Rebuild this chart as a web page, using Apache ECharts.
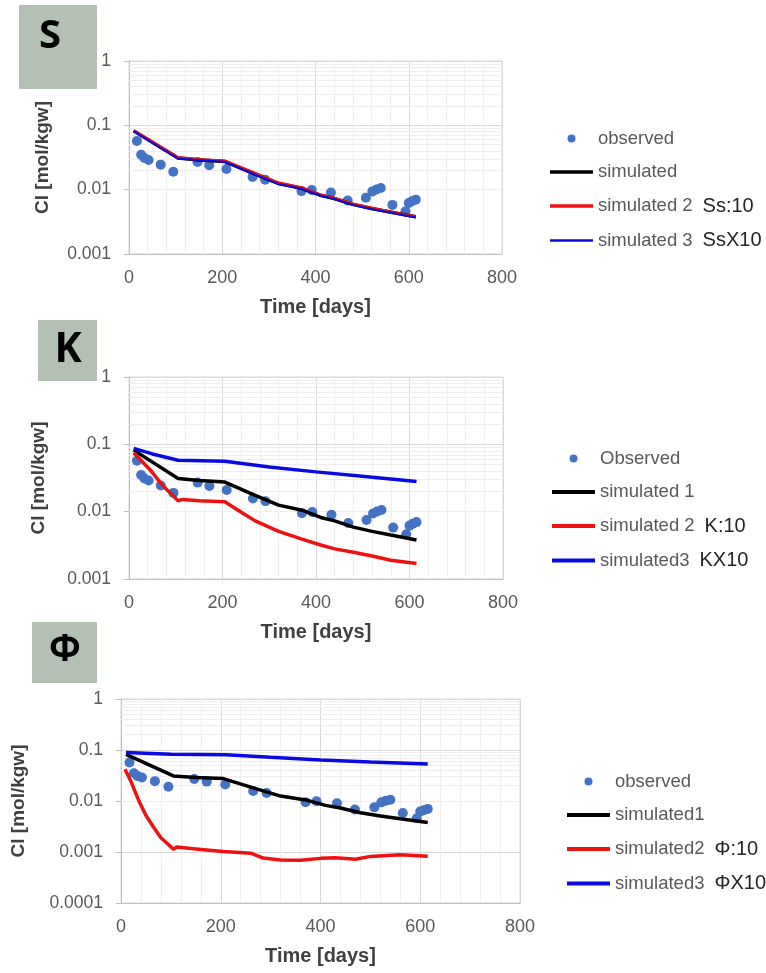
<!DOCTYPE html>
<html>
<head>
<meta charset="utf-8">
<title>Cl vs time</title>
<script src="https://cdn.jsdelivr.net/npm/echarts@6/dist/echarts.min.js"></script>
<style>
html, body { margin: 0; padding: 0; background: #fff; }
#main { width: 766px; height: 973px; }
</style>
</head>
<body>
<div id="main"></div>
<script>
// observed Cl (same measurements in all three panels)
var obsDays = [17, 26, 33, 42, 68, 95, 147, 172, 209, 265, 292, 370, 392, 433, 469, 508, 522, 531, 540, 565, 593, 600, 607, 615];
var obsCl = [0.057, 0.035, 0.031, 0.029, 0.0245, 0.019, 0.027, 0.024, 0.021, 0.0157, 0.0143, 0.0095, 0.0099, 0.009, 0.0068, 0.0075, 0.0094, 0.0101, 0.0106, 0.0058, 0.0046, 0.0062, 0.0066, 0.007];

// base simulation
var simDays = [10, 105, 150, 205, 270, 320, 370, 410, 440, 480, 520, 560, 615];
var simCl = [0.082, 0.031, 0.029, 0.0275, 0.0175, 0.0125, 0.0105, 0.0082, 0.0073, 0.0059, 0.0051, 0.0045, 0.0038];

// S panel
var ssLowCl = [0.083, 0.0315, 0.0295, 0.028, 0.018, 0.0128, 0.0107, 0.0083, 0.0074, 0.006, 0.0052, 0.0045, 0.0038];
var ssHighCl = [0.081, 0.0305, 0.0288, 0.0272, 0.0172, 0.0123, 0.0103, 0.0081, 0.0072, 0.0058, 0.005, 0.0044, 0.0037];

// K panel
var kLowDays = [10, 45, 73, 105, 115, 150, 205, 240, 270, 320, 370, 410, 440, 480, 520, 560, 615];
var kLowCl = [0.075, 0.042, 0.024, 0.0145, 0.0152, 0.0145, 0.014, 0.0098, 0.0073, 0.0051, 0.0039, 0.0032, 0.0028, 0.0025, 0.0022, 0.0019, 0.0017];
var kHighDays = [10, 50, 105, 205, 300, 400, 510, 615];
var kHighCl = [0.087, 0.072, 0.058, 0.056, 0.046, 0.039, 0.033, 0.028];

// Phi panel
var phiLowDays = [8, 20, 35, 50, 65, 80, 95, 105, 112, 150, 205, 260, 285, 320, 360, 400, 430, 470, 500, 560, 615];
var phiLowCl = [0.042, 0.024, 0.0105, 0.0052, 0.0031, 0.0019, 0.0014, 0.00113, 0.00125, 0.00115, 0.00102, 0.00095, 0.00076, 0.0007, 0.00069, 0.00075, 0.00077, 0.00072, 0.00082, 0.00088, 0.00083];
var phiHighDays = [10, 100, 210, 300, 400, 500, 615];
var phiHighCl = [0.089, 0.083, 0.081, 0.072, 0.064, 0.058, 0.053];

// legends
var legendS = ['observed', 'simulated', 'simulated 2', 'simulated 3'];
var notesS = ['', '', 'Ss:10', 'SsX10'];
var legendK = ['Observed', 'simulated 1', 'simulated 2', 'simulated3'];
var notesK = ['', '', 'K:10', 'KX10'];
var legendP = ['observed', 'simulated1', 'simulated2', 'simulated3'];
var notesP = ['', '', '\u03A6:10', '\u03A6X10'];
var panelLetters = ['S', 'K', '\u03A6'];

var xTicks = [0, 200, 400, 600, 800];

var FONT = '"Liberation Sans", Arial, sans-serif';
var BLUE_DOT = '#4472c4', RED = '#ee1111', BLUE = '#0a0ae0';

function zip(a, b) {
    return a.map(function (d, i) { return [d, b[i]]; });
}

// excel-like log minor grid lines (2..9 per decade)
function minorGrid(lo, hi) {
    var out = [];
    for (var e = lo; e < hi; e++) {
        for (var m = 2; m <= 9; m++) out.push({ yAxis: m * Math.pow(10, e) });
    }
    return out;
}

var myChart = echarts.init(document.getElementById('main'));

var grids = [
    { left: 129, top: 61, width: 373, height: 193 },
    { left: 129, top: 377, width: 374, height: 202 },
    { left: 121, top: 699, width: 399, height: 204 }
];
grids.forEach(function (g) {
    g.show = true;
    g.borderColor = '#d9d9d9';
    g.borderWidth = 1;
    g.backgroundColor = 'transparent';
});

var yMins = [0.001, 0.001, 0.0001];
var yNameGaps = [77, 81, 93];

var xAxes = grids.map(function (g, i) {
    return {
        gridIndex: i,
        type: 'value',
        min: xTicks[0],
        max: xTicks[xTicks.length - 1],
        interval: 200,
        name: 'Time [days]',
        nameLocation: 'middle',
        nameGap: 43,
        nameTextStyle: { fontFamily: FONT, fontWeight: 'bold', fontSize: 20, color: '#404040' },
        axisLine: { lineStyle: { color: '#bfbfbf' } },
        axisTick: { show: false },
        axisLabel: { margin: 15, fontFamily: FONT, fontSize: 18, color: '#595959' },
        splitLine: { show: true, lineStyle: { color: '#d9d9d9' } },
        minorTick: { show: false, splitNumber: 5 },
        minorSplitLine: { show: true, lineStyle: { color: '#efefef' } }
    };
});

var yAxes = grids.map(function (g, i) {
    return {
        gridIndex: i,
        type: 'log',
        logBase: 10,
        min: yMins[i],
        max: 1,
        name: 'Cl [mol/kgw]',
        nameLocation: 'middle',
        nameRotate: 90,
        nameGap: yNameGaps[i],
        nameTextStyle: { fontFamily: FONT, fontWeight: 'bold', fontSize: 19, color: '#404040' },
        axisLine: { show: true, lineStyle: { color: '#bfbfbf' } },
        axisTick: { show: true, length: 5, lineStyle: { color: '#bfbfbf' } },
        axisLabel: { margin: 18, fontFamily: FONT, fontSize: 17.5, color: '#595959' },
        splitLine: { show: true, lineStyle: { color: '#d9d9d9' } }
    };
});

function observed(name, i) {
    return {
        name: name,
        type: 'scatter',
        xAxisIndex: i,
        yAxisIndex: i,
        symbolSize: 10,
        itemStyle: { color: BLUE_DOT, opacity: 1 },
        z: 5,
        data: zip(obsDays, obsCl),
        markLine: {
            silent: true,
            z: 1,
            symbol: ['none', 'none'],
            label: { show: false },
            lineStyle: { color: '#eeeeee', width: 1, type: 'solid' },
            animation: false,
            data: minorGrid(Math.round(Math.log10(yMins[i])), 0)
        }
    };
}

function simLine(name, i, color, width, days, vals) {
    return {
        name: name,
        type: 'line',
        xAxisIndex: i,
        yAxisIndex: i,
        symbol: 'none',
        smooth: false,
        z: 8,
        lineStyle: { color: color, width: width },
        itemStyle: { color: color },
        data: zip(days, vals)
    };
}

// flat bar icon so the legend shows a plain line segment
function barIcon(h) {
    return 'path://M0,0H43V' + h + 'H0Z';
}

function makeLegend(names, notes, thick, left, top) {
    return {
        orient: 'vertical',
        left: left,
        top: top,
        padding: 0,
        itemWidth: 43,
        itemHeight: 8,
        itemGap: 14.5,
        data: names.map(function (n, k) {
            return thick[k] ? { name: n, icon: barIcon(thick[k]) } : { name: n };
        }),
        formatter: function (name) {
            var k = names.indexOf(name);
            return notes[k] ? '{a|' + name + '}{b|' + notes[k] + '}' : '{a|' + name + '}';
        },
        textStyle: {
            rich: {
                a: { fontFamily: FONT, fontSize: 18.5, color: '#595959', lineHeight: 20 },
                b: { fontFamily: FONT, fontSize: 20, color: '#262626', lineHeight: 20, padding: [0, 0, 0, 10] }
            }
        }
    };
}

var boxes = [
    { x: 19, y: 5, w: 78, h: 84, tx: 50, ty: 37, size: 40 },
    { x: 38, y: 320, w: 59, h: 61, tx: 68, ty: 350, size: 41 },
    { x: 32, y: 622, w: 65, h: 61, tx: 65, ty: 650, size: 37 }
];
var graphics = [];
boxes.forEach(function (b, i) {
    graphics.push({
        type: 'rect', left: b.x, top: b.y,
        shape: { width: b.w, height: b.h },
        style: { fill: '#b5c0b4' }
    });
    graphics.push({
        type: 'text', x: b.tx, y: b.ty,
        style: {
            text: panelLetters[i], fill: '#000',
            font: 'bold ' + b.size + 'px "Open Sans", "Noto Sans", sans-serif',
            textAlign: 'center', textVerticalAlign: 'middle'
        }
    });
});

var option = {
    animation: false,
    backgroundColor: '#fff',
    grid: grids,
    xAxis: xAxes,
    yAxis: yAxes,
    legend: [
        makeLegend(legendS, notesS, [0, 3.5, 3.5, 2.5], 550, 129),
        makeLegend(legendK, notesK, [0, 4, 4, 4], 552, 449),
        makeLegend(legendP, notesP, [0, 4, 4, 4], 567, 772)
    ],
    graphic: graphics,
    series: [
        observed('observed', 0),
        simLine('simulated', 0, '#000', 3.5, simDays, simCl),
        simLine('simulated 2', 0, RED, 3, simDays, ssLowCl),
        simLine('simulated 3', 0, BLUE, 2, simDays, ssHighCl),

        observed('Observed', 1),
        simLine('simulated 1', 1, '#000', 3.5, simDays, simCl),
        simLine('simulated 2', 1, RED, 3.5, kLowDays, kLowCl),
        simLine('simulated3', 1, BLUE, 3.5, kHighDays, kHighCl),

        observed('observed', 2),
        simLine('simulated1', 2, '#000', 3.5, simDays, simCl),
        simLine('simulated2', 2, RED, 3.5, phiLowDays, phiLowCl),
        simLine('simulated3', 2, BLUE, 3.5, phiHighDays, phiHighCl)
    ]
};

myChart.setOption(option);
</script>
</body>
</html>
